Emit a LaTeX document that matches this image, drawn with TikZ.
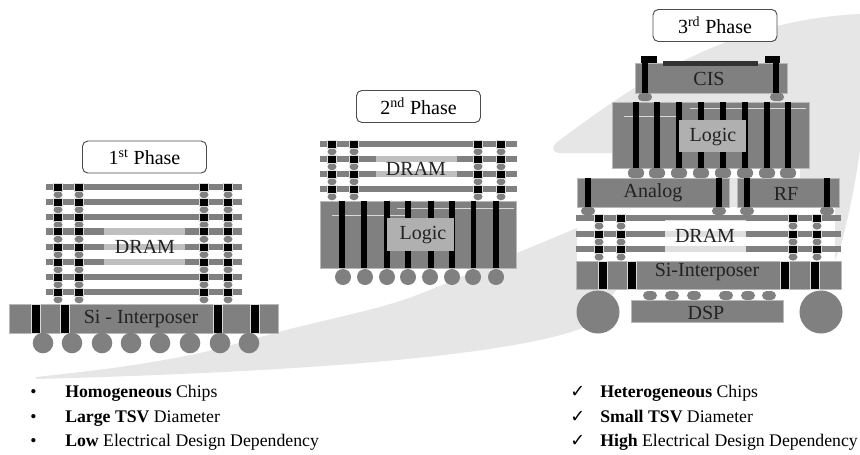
\documentclass[tikz,border=0pt]{standalone}
\usepackage{fontspec}
\setmainfont{Liberation Serif}
\newfontfamily\checkfont{DejaVu Sans}
\usetikzlibrary{positioning}
\definecolor{chipgray}{HTML}{808080}
\definecolor{swooshgray}{HTML}{E6E6E6}
\definecolor{textgray}{HTML}{222222}

\begin{document}
\begin{tikzpicture}[
		x=0.75pt, y=-0.75pt,
		% Shapes of the packages
		chip/.style={fill=chipgray, draw=chipgray!55, line width=0.4pt},
		layer/.style={fill=chipgray, draw=none},
		tsv/.style={fill=black, draw=white!85!black, line width=0.4pt},
		bump/.style={fill=chipgray, draw=none},
		ball/.style={fill=chipgray, draw=none},
		haze/.style={fill=white, fill opacity=0.5, draw=none},
		logic_haze/.style={fill=chipgray!62, draw=none},
		trace/.style={draw=white!85!black, line width=0.6pt},
		% Text styles
		phase_box/.style={draw=black!70, fill=white, line width=0.7pt, rounded corners=4pt, minimum width=93pt, minimum height=24pt, inner sep=0pt, font=\fontsize{15}{17}\selectfont},
		chip_label/.style={text=textgray, inner sep=0pt, font=\fontsize{15}{17}\selectfont},
		list_item/.style={anchor=base west, inner sep=0pt, font=\fontsize{13.3}{15}\selectfont}
		]
		\useasboundingbox (0,0) rectangle (860,454);
		
		% --- BACKGROUND SWEEP ---
		\fill[swooshgray] plot[smooth, tension=0.5] coordinates {(36,377) (120,367) (200,353) (290,329) (403,300) (517,253) (625,208)}
			-- (625,153) -- (561,153) .. controls (552,153) and (551,147) .. (556,143)
			.. controls (620,95) and (720,20) .. (860,14) -- (860,150)
			.. controls (855,185) and (849,215) .. (841,245) -- (825,285) -- (620,285) -- (590,325)
			.. controls (520,356) and (300,372) .. (36,379) -- cycle;
		\fill[white] (577,167) rectangle (800,178);
		\fill[white] (577,207) rectangle (835,261);
		
		% --- 1ST PHASE ---
		\foreach \y in {187,202,217,231.5,247,262,277,292} {
			\fill[layer] (46,\y-3.2) rectangle (242,\y+3.2);
		}
		\fill[haze] (104,228) rectangle (185,266);
		\foreach \x in {58,79,204,228} {
			\foreach \y in {187,202,217,231.5,247,262,277,292} {
				\fill[bump] (\x,\y+7.7) ellipse [x radius=4.5, y radius=3.6];
				\draw[tsv] (\x-4.5,\y-4) rectangle (\x+4.5,\y+4);
			}
		}
		\node[chip_label] (dram1) at (145,247) {DRAM};
		
		\draw[chip] (9,304) rectangle (278,333);
		\foreach \x in {36,64.5,217.5,254.5} {
			\draw[tsv] (\x-4.5,304) rectangle (\x+4.5,333);
		}
		\foreach \x in {43,72,102,131,160,190,220,249} {
			\fill[ball] (\x,343) circle [radius=10.3];
		}
		\node[chip_label] (interposer1) at (141,319) {Si - Interposer};
		\node[phase_box] (phase1) at (144.5,157) {1\textsuperscript{st} Phase};
		
		% --- 2ND PHASE ---
		\foreach \y in {144,159,174,189} {
			\fill[layer] (320,\y-3.2) rectangle (517,\y+3.2);
		}
		\fill[haze] (376,156) rectangle (457,177);
		\foreach \x in {332,354,478,501} {
			\foreach \y in {144,159,174,189} {
				\fill[bump] (\x,\y+7.7) ellipse [x radius=4.5, y radius=3.6];
				\draw[tsv] (\x-4.5,\y-4) rectangle (\x+4.5,\y+4);
			}
		}
		\node[chip_label] (dram2) at (416,169) {DRAM};
		
		\draw[chip] (320,201) rectangle (516,268);
		\draw[trace] (397,208) -- (514,208);
		\draw[trace] (332,215) -- (410,215);
		\foreach \x in {342,364,387,408,431,452,473.5,496} {
			\fill[black] (\x-2.8,201) rectangle (\x+2.8,268);
		}
		\fill[logic_haze] (387,218) rectangle (454,251);
		\foreach \x in {343,365,387,408,430,452,473,496} {
			\fill[ball] (\x,277) circle [radius=8];
		}
		\node[chip_label] (logic2) at (423,235) {Logic};
		\node[phase_box] (phase2) at (418.5,106.5) {2\textsuperscript{nd} Phase};
		
		% --- 3RD PHASE ---
		% CIS
		\draw[chip] (635,63) rectangle (787,93);
		\fill[black!80] (663,61) rectangle (758,66);
		\fill[black] (641,56) rectangle (657,63);
		\fill[black] (642,56) rectangle (648,93);
		\fill[black] (765,56) rectangle (780,63);
		\fill[black] (773,56) rectangle (779,93);
		\fill[bump, rounded corners=3pt] (638,93) rectangle (652,101);
		\fill[bump, rounded corners=3pt] (770,93) rectangle (784,101);
		\node[chip_label] (cis3) at (709,79) {CIS};
		
		% Logic
		\draw[chip] (612,102) rectangle (809,168);
		\draw[trace] (624,116) -- (682,116);
		\draw[trace] (690,108) -- (806,108);
		\foreach \x in {636,657,679,701,723,745,767,788} {
			\fill[black] (\x-3,102) rectangle (\x+3,168);
			\fill[bump, rounded corners=3pt] (\x-8,168) rectangle (\x+8,178);
		}
		\fill[logic_haze] (679,120) rectangle (746,152);
		\node[chip_label] (logic3) at (713,137) {Logic};
		
		% Analog and RF
		\draw[chip] (577,178) rectangle (729,207);
		\draw[chip] (737,178) rectangle (839,207);
		\foreach \x in {588,719,747,827} {
			\fill[black] (\x-3,178) rectangle (\x+3,207);
			\fill[bump, rounded corners=3pt] (\x-7,207) rectangle (\x+7,215);
		}
		\node[chip_label] (analog3) at (653,193) {Analog};
		\node[chip_label] (rf3) at (786,194) {RF};
		
		% DRAM
		\foreach \y in {218,234,249} {
			\fill[layer] (576,\y-3.2) rectangle (841,\y+3.2);
		}
		\fill[white, fill opacity=0.75] (665,220) rectangle (746,253);
		\foreach \x in {599,621,793,817} {
			\foreach \y in {218,234,249} {
				\fill[bump] (\x,\y+8) ellipse [x radius=4.5, y radius=3.6];
				\draw[tsv] (\x-4.5,\y-4) rectangle (\x+4.5,\y+4);
			}
		}
		\node[chip_label] (dram3) at (705,236) {DRAM};
		
		% Interposer and DSP
		\draw[chip] (576,261) rectangle (841,289);
		\foreach \x in {603,632,785,815} {
			\draw[tsv] (\x-4.5,261) rectangle (\x+4.5,289);
		}
		\node[chip_label] (interposer3) at (707,272) {Si-Interposer};
		\fill[ball] (598,312) circle [radius=21.5];
		\fill[ball] (821,312) circle [radius=21.5];
		\foreach \x in {650,672,694,726,748,769} {
			\fill[bump, rounded corners=3.5pt] (\x-7,291) rectangle (\x+7,300);
		}
		\draw[chip] (631,300) rectangle (783,322);
		\node[chip_label] (dsp3) at (706,313) {DSP};
		\node[phase_box] (phase3) at (715,25.5) {3\textsuperscript{rd} Phase};
		
		% --- LISTS ---
		\foreach \y/\first/\rest/\name in {397/Homogeneous/Chips/a, 422/Large TSV/Diameter/b, 446/Low/Electrical Design Dependency/c} {
			\node[list_item] (bullet\name) at (30,\y) {\textbullet};
			\node[list_item] (left\name) at (65,\y) {\textbf{\first} \rest};
		}
		\foreach \y/\first/\rest/\name in {397/Heterogeneous/Chips/a, 422/Small TSV/Diameter/b, 446/High/Electrical Design Dependency/c} {
			\node[list_item] (check\name) at (570,\y) {\checkfont\char"2713};
			\node[list_item] (right\name) at (600,\y) {\textbf{\first} \rest};
		}
		
	\end{tikzpicture}
\end{document}
